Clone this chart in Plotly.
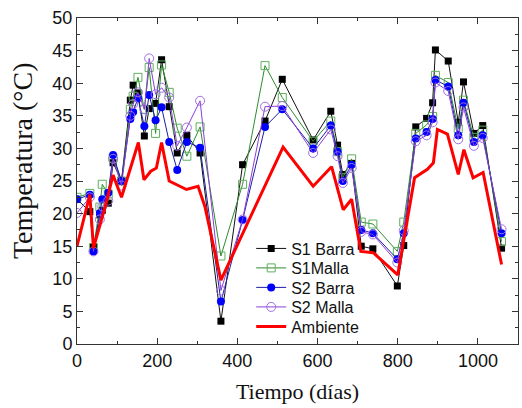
import plotly.graph_objects as go

# Sample times (days) for the four probe series
dias = [0, 32, 41, 57, 63, 78, 90, 111, 133, 140, 152, 168, 180, 196, 211, 230, 250, 274, 307,
        359, 413, 469, 512, 589, 633, 650, 663, 685, 709, 738, 799, 815, 845, 872, 887, 894,
        926, 951, 964, 990, 1012, 1059]

s1_barra = [22.2, 20.3, 14.8, 19.8, 20.5, 21.6, 27.8, 25.0, 37.4, 39.7, 38.5, 31.9, 36.1, 36.9, 43.6, 36.4, 29.3, 32.0, 29.3,
            3.5, 27.5, 34.2, 40.6, 31.3, 35.7, 30.5, 26.0, 27.7, 15.0, 14.6, 8.9, 15.1, 33.3, 34.6, 37.0, 45.1,
            43.4, 34.0, 40.2, 32.3, 33.5, 14.7]

s1_malla = [22.5, 23.1, 14.8, 21.0, 24.5, 23.0, 28.5, 25.0, 36.0, 38.0, 40.9, 36.0, 42.4, 32.3, 42.8, 38.6, 33.1, 28.8, 33.3,
            13.5, 24.5, 42.7, 37.8, 31.1, 34.2, 29.5, 25.5, 28.4, 18.7, 18.4, 14.2, 18.7, 32.3, 33.6, 34.9, 41.2,
            40.1, 33.0, 37.4, 31.7, 32.8, 15.7]

s2_barra = [22.2, 22.9, 14.2, 20.1, 22.2, 23.2, 29.0, 25.0, 34.5, 35.6, 37.7, 33.4, 38.2, 34.3, 36.3, 31.0, 26.7, 31.0, 30.1,
            6.5, 19.0, 33.3, 36.0, 30.0, 33.5, 29.5, 25.0, 27.5, 17.5, 17.0, 13.0, 17.0, 31.5, 32.5, 34.5, 40.5,
            39.5, 32.0, 37.0, 31.0, 32.0, 17.0]

s2_malla = [20.1, 22.5, 14.2, 19.1, 21.1, 22.0, 28.4, 24.3, 35.0, 36.8, 38.6, 36.0, 43.8, 38.3, 39.3, 37.8, 30.4, 33.2, 37.3,
            8.2, 19.1, 36.4, 36.5, 29.3, 32.9, 28.8, 24.7, 27.0, 17.2, 16.8, 12.5, 17.4, 31.1, 32.0, 34.0, 40.1,
            38.8, 31.4, 36.3, 30.4, 31.6, 17.6]

# Ambient temperature
dias_amb = [0, 32, 41, 70, 90, 111, 153, 167, 184, 198, 211, 230, 273, 302, 319, 359, 514, 589, 635, 664,
            685, 708, 739, 800, 842, 874, 889, 899, 924, 951, 965, 988, 1013, 1059]
ambiente = [15.0, 22.9, 14.7, 21.0, 25.9, 22.5, 30.9, 25.2, 26.5, 27.0, 30.9, 25.0, 23.7, 24.2, 21.1, 9.8, 30.2, 24.2, 27.2, 20.6,
            22.2, 14.2, 14.0, 10.6, 25.5, 26.8, 27.8, 32.9, 32.2, 26.0, 29.8, 25.5, 26.3, 12.2]

fig = go.Figure()
fig.add_trace(go.Scatter(x=dias, y=s1_barra, name="S1 Barra", mode="lines+markers", legend="legend",
                         line=dict(color="#111111", width=1),
                         marker=dict(symbol="square", size=7, color="#000000")))
fig.add_trace(go.Scatter(x=dias, y=s1_malla, name="S1Malla", mode="lines+markers", legend="legend2",
                         line=dict(color="#2e8b2e", width=1),
                         marker=dict(symbol="square-open", size=8, color="#5fb05f", line=dict(width=1))))
fig.add_trace(go.Scatter(x=dias, y=s2_barra, name="S2 Barra", mode="lines+markers", legend="legend3",
                         line=dict(color="#1c1ca8", width=1),
                         marker=dict(symbol="circle", size=8, color="#0000ff")))
fig.add_trace(go.Scatter(x=dias, y=s2_malla, name="S2 Malla", mode="lines+markers", legend="legend4",
                         line=dict(color="#8a3fd8", width=1),
                         marker=dict(symbol="circle-open", size=9, color="#a070e0", line=dict(width=1))))
fig.add_trace(go.Scatter(x=dias_amb, y=ambiente, name="Ambiente", mode="lines", legend="legend5",
                         line=dict(color="#ff0000", width=3)))

axis_common = dict(showline=True, linecolor="#333333", linewidth=1, mirror="allticks",
                   ticks="inside", ticklen=6, tickwidth=1, tickcolor="#333333",
                   showgrid=False, zeroline=False,
                   tickfont=dict(family="Liberation Sans, Arial", size=18, color="#111111"))

def leg(y):
    return dict(x=0.395, y=y, xanchor="left", yanchor="top",
                bgcolor="rgba(0,0,0,0)", borderwidth=0,
                font=dict(family="Liberation Sans, Arial", size=16, color="#111111"),
                itemwidth=30)

fig.update_layout(
    width=522, height=408,
    margin=dict(l=77, r=4, t=18, b=64),
    paper_bgcolor="white", plot_bgcolor="white",
    xaxis=dict(range=[0, 1100], dtick=200, tick0=0,
               minor=dict(ticks="inside", ticklen=3, dtick=100, tickcolor="#333333"),
               title=dict(text="Tiempo (días)", standoff=14,
                          font=dict(family="Liberation Serif, Times New Roman", size=22, color="#111111")),
               **axis_common),
    yaxis=dict(range=[0, 50], dtick=5, tick0=0,
               minor=dict(ticks="inside", ticklen=3, dtick=2.5, tickcolor="#333333"),
               **axis_common),
    annotations=[dict(text="Temperatura (°C)", xref="paper", yref="paper",
                      x=-0.124, y=0.562, xanchor="center", yanchor="middle",
                      textangle=-90, showarrow=False,
                      font=dict(family="Liberation Serif, Times New Roman", size=28, color="#111111"))],
    legend=leg(0.345),
    legend2=leg(0.2853),
    legend3=leg(0.2255),
    legend4=leg(0.1656),
    legend5=leg(0.1058),
    showlegend=True,
)

fig.write_html("out.html")
